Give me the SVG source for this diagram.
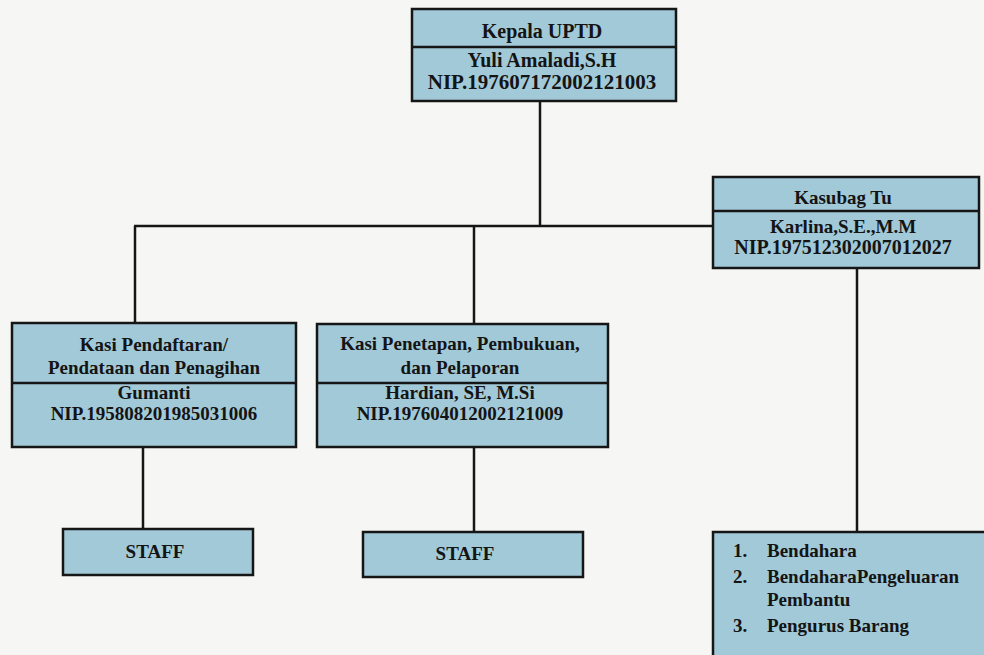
<svg xmlns="http://www.w3.org/2000/svg" width="984" height="655" viewBox="0 0 984 655">
<style>
.box{fill:#a2c9d8;stroke:#161616;stroke-width:2.5}
.div{stroke:#161616;stroke-width:2.5}
.ln{stroke:#161616;stroke-width:2.5;fill:none}
text{font-family:"Liberation Serif","Times New Roman",serif;font-weight:bold;fill:#141414;font-size:19px}
.c{text-anchor:middle}
</style>
<rect width="984" height="655" fill="#f6f6f4"/>
<g id="connectors">
<line class="ln" x1="540" y1="101" x2="540" y2="226"/>
<line class="ln" x1="134" y1="226" x2="713" y2="226"/>
<line class="ln" x1="135" y1="226" x2="135" y2="323"/>
<line class="ln" x1="474" y1="226" x2="474" y2="324"/>
<line class="ln" x1="143" y1="447" x2="143" y2="529"/>
<line class="ln" x1="474" y1="447" x2="474" y2="532"/>
<line class="ln" x1="857" y1="268" x2="857" y2="532"/>
</g>
<g id="kepala">
<rect class="box" x="412" y="9" width="264" height="92"/>
<line class="div" x1="412" y1="47" x2="676" y2="47"/>
<text class="c" x="542" y="38" style="font-size:20px">Kepala UPTD</text>
<text class="c" x="542" y="67" style="font-size:20px">Yuli Amaladi,S.H</text>
<text class="c" x="542" y="89" style="font-size:21px">NIP.197607172002121003</text>
</g>
<g id="kasubag">
<rect class="box" x="713" y="177" width="266" height="91"/>
<line class="div" x1="713" y1="211" x2="979" y2="211"/>
<text class="c" x="843" y="204">Kasubag Tu</text>
<text class="c" x="843" y="233">Karlina,S.E.,M.M</text>
<text class="c" x="843" y="254" style="font-size:20px">NIP.197512302007012027</text>
</g>
<g id="kasi-pendaftaran">
<rect class="box" x="12" y="323" width="284" height="124"/>
<line class="div" x1="12" y1="383" x2="296" y2="383"/>
<text class="c" x="154" y="351">Kasi Pendaftaran/</text>
<text class="c" x="154" y="374">Pendataan dan Penagihan</text>
<text class="c" x="154" y="399">Gumanti</text>
<text class="c" x="154" y="420">NIP.195808201985031006</text>
</g>
<g id="kasi-penetapan">
<rect class="box" x="317" y="324" width="291" height="123"/>
<line class="div" x1="317" y1="383" x2="608" y2="383"/>
<text class="c" x="460" y="350">Kasi Penetapan, Pembukuan,</text>
<text class="c" x="460" y="374">dan Pelaporan</text>
<text class="c" x="460" y="399">Hardian, SE, M.Si</text>
<text class="c" x="460" y="420">NIP.197604012002121009</text>
</g>
<g id="staff-1">
<rect class="box" x="63" y="529" width="190" height="46"/>
<text class="c" x="155" y="558">STAFF</text>
</g>
<g id="staff-2">
<rect class="box" x="363" y="532" width="220" height="45"/>
<text class="c" x="465" y="560">STAFF</text>
</g>
<g id="bendahara">
<rect class="box" x="713" y="532" width="280" height="140"/>
<text x="733" y="557">1.</text><text x="767" y="557">Bendahara</text>
<text x="733" y="583">2.</text><text x="767" y="583">BendaharaPengeluaran</text>
<text x="767" y="606">Pembantu</text>
<text x="733" y="632">3.</text><text x="767" y="632">Pengurus Barang</text>
</g>
</svg>
